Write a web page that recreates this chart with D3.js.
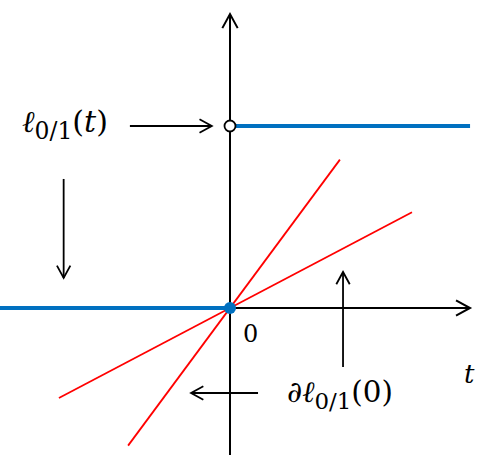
<!DOCTYPE html>
<html><head><meta charset="utf-8">
<script src="https://cdn.jsdelivr.net/npm/d3@7"></script>
<style>body{margin:0;background:#fff}svg{display:block}</style>
</head><body>
<script>
// Data (units: step height = 1)
const xAxisExtent = [-1.264, 1.319];
const yAxisExtent = [-0.808, 1.615];
const lossLeft = [[-1.264, 0], [0, 0]];
const lossRight = [[0.03, 1], [1.319, 1]];
const openPoint = [0, 1];
const filledPoint = [0, 0];
const subgradSlopes = [1.35, 0.526];
const subgradXRange = [[-0.56, 0.604], [-0.94, 1.0]];
// annotation arrows: [x1,y1,x2,y2] (tail -> head)
const arrows = [
  [-0.55, 1, -0.10, 1],
  [-0.914, 0.709, -0.914, 0.165],
  [0.621, -0.324, 0.621, 0.198],
  [0.154, -0.467, -0.214, -0.467]
];
const tickLabel = "0";

const W = 496, H = 457;
const unit = 182;
const x = d3.scaleLinear().domain([0, 1]).range([230, 230 + unit]);
const y = d3.scaleLinear().domain([0, 1]).range([308, 308 - unit]);

const svg = d3.select("body").append("svg").attr("width", W).attr("height", H);

function arrowHead(g, x1, y1, x2, y2, len, color, sw) {
  const a = Math.atan2(y2 - y1, x2 - x1);
  const s = 0.5;
  const p = [
    [x2 - len * Math.cos(a - s), y2 - len * Math.sin(a - s)],
    [x2, y2],
    [x2 - len * Math.cos(a + s), y2 - len * Math.sin(a + s)]
  ];
  g.append("path").attr("d", d3.line()(p)).attr("fill", "none")
    .attr("stroke", color).attr("stroke-width", sw).attr("stroke-linejoin", "miter");
}

// axes
const ax = svg.append("g");
ax.append("line").attr("x1", x(xAxisExtent[0])).attr("x2", x(xAxisExtent[1]))
  .attr("y1", y(0)).attr("y2", y(0)).attr("stroke", "#000").attr("stroke-width", 2);
arrowHead(ax, x(0), y(0), x(xAxisExtent[1]), y(0), 16, "#000", 2);
ax.append("line").attr("x1", x(0)).attr("x2", x(0))
  .attr("y1", y(yAxisExtent[0])).attr("y2", y(yAxisExtent[1])).attr("stroke", "#000").attr("stroke-width", 2);
arrowHead(ax, x(0), y(0), x(0), y(yAxisExtent[1]), 16, "#000", 2);

// subgradient lines
const line = d3.line().x(d => x(d[0])).y(d => y(d[1]));
subgradSlopes.forEach((m, i) => {
  const pts = subgradXRange[i].map(t => [t, m * t]);
  svg.append("path").attr("d", line(pts)).attr("fill", "none")
    .attr("stroke", "#ff0000").attr("stroke-width", 1.8);
});

// loss function
[lossLeft, lossRight].forEach(seg => {
  svg.append("path").attr("d", line(seg)).attr("fill", "none")
    .attr("stroke", "#0070c0").attr("stroke-width", 4);
});
svg.append("circle").attr("cx", x(openPoint[0])).attr("cy", y(openPoint[1])).attr("r", 5.5)
  .attr("fill", "#fff").attr("stroke", "#000").attr("stroke-width", 1.8);
svg.append("circle").attr("cx", x(filledPoint[0])).attr("cy", y(filledPoint[1])).attr("r", 6)
  .attr("fill", "#0070c0");

// annotation arrows
arrows.forEach(a => {
  const [x1, y1, x2, y2] = [x(a[0]), y(a[1]), x(a[2]), y(a[3])];
  svg.append("line").attr("x1", x1).attr("y1", y1).attr("x2", x2).attr("y2", y2)
    .attr("stroke", "#000").attr("stroke-width", 1.8);
  arrowHead(svg, x1, y1, x2, y2, 14, "#000", 1.8);
});

// labels
const font = "'DejaVu Serif', 'Liberation Serif', serif";
function mathLabel(x0, base, parts, targetW) {
  const t = svg.append("text").attr("x", x0).attr("y", base).attr("font-family", font).attr("fill", "#000");
  function build(fs) {
    t.selectAll("tspan").remove();
    parts.forEach(p => {
      const s = t.append("tspan").text(p.s).attr("font-size", fs * (p.sub ? 0.78 : 1));
      if (p.it) s.attr("font-style", "italic");
      if (p.dy) s.attr("dy", p.dy);
    });
  }
  build(24);
  const w = t.node().getComputedTextLength();
  build(Math.min(32, 24 * targetW / w));
  return t;
}
mathLabel(22, 132, [
  {s: "ℓ", it: true},
  {s: "0/1", sub: true, dy: 7},
  {s: "(", dy: -7},
  {s: "t", it: true},
  {s: ")"}
], 86);
mathLabel(287, 402, [
  {s: "∂ℓ", it: true},
  {s: "0/1", sub: true, dy: 7},
  {s: "(0)", dy: -7}
], 106);

svg.append("text").attr("x", 243).attr("y", 342).attr("font-family", font).attr("font-size", 24).text(tickLabel);
svg.append("text").attr("x", 464).attr("y", 383).attr("font-family", font).attr("font-style", "italic").attr("font-size", 26).text("t");
</script>
</body></html>
